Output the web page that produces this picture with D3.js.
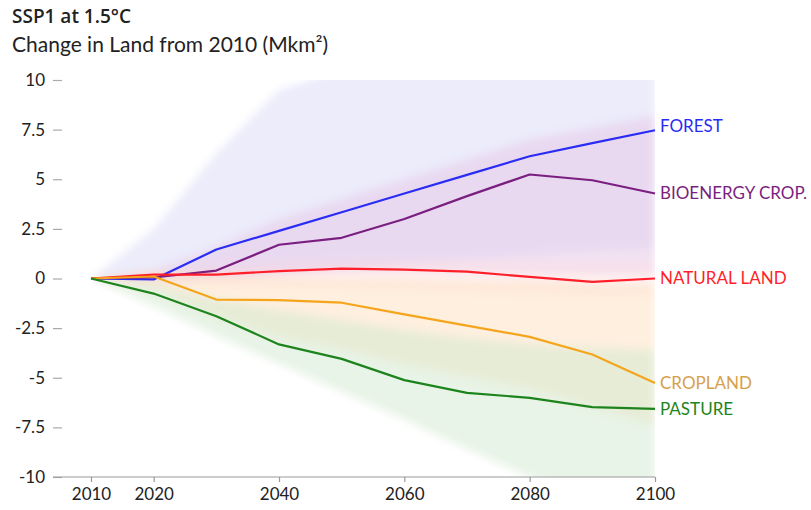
<!DOCTYPE html>
<html>
<head>
<meta charset="utf-8">
<script src="https://cdn.jsdelivr.net/npm/d3@7"></script>
<style>
  html, body { margin: 0; padding: 0; background: #fff; }
  svg { display: block; font-family: Lato, "Open Sans", sans-serif; }
</style>
</head>
<body>
<svg id="chart" width="811" height="510"></svg>
<script>
// Land-use change under SSP1 at 1.5°C, relative to 2010 (million km²)
const years = [2010, 2020, 2030, 2040, 2050, 2060, 2070, 2080, 2090, 2100];

const forest      = [0, -0.05, 1.46, 2.4, 3.34, 4.28, 5.22, 6.16, 6.82, 7.47];
const bioenergy   = [0, 0.05, 0.4, 1.7, 2.05, 3.0, 4.15, 5.24, 4.95, 4.28];
const naturalLand = [0, 0.2, 0.2, 0.37, 0.5, 0.45, 0.35, 0.08, -0.17, 0];
const cropland    = [0, 0.1, -1.06, -1.09, -1.22, -1.81, -2.37, -2.94, -3.83, -5.26];
const pasture     = [0, -0.76, -1.9, -3.32, -4.05, -5.12, -5.76, -6.01, -6.48, -6.57];

// model ranges (low / high) around each median path
const forestLow       = [0, -0.3, 0, 0.3, 0.5, 0.8, 1.0, 1.2, 1.4, 1.5];
const forestHigh      = [0, 2.5, 6.3, 9.5, 10.5, 11, 11, 11, 11, 11];
const bioenergyLow    = [0, 0, 0, 0.2, 0.3, 0.3, 0.3, 0.2, 0.2, 0.2];
const bioenergyHigh   = [0, 0.4, 1.6, 3.0, 4.0, 5.0, 6.0, 7.0, 7.6, 8.2];
const naturalLandLow  = [0, -0.2, -0.4, -0.5, -0.5, -0.6, -0.7, -0.8, -0.9, -0.9];
const naturalLandHigh = [0, 0.4, 0.6, 0.8, 0.9, 0.9, 0.9, 0.8, 0.8, 0.8];
const croplandLow     = [0, -0.6, -2.0, -3.0, -3.6, -4.4, -5.0, -5.6, -6.5, -7.4];
const croplandHigh    = [0, 0.3, 0.2, 0.1, 0, 0, -0.1, -0.1, -0.2, -0.3];
const pastureLow      = [0, -1.4, -2.9, -4.3, -5.7, -7.1, -8.6, -10, -11, -12];
const pastureHigh     = [0, -0.3, -1.0, -1.6, -2.1, -2.6, -3.0, -3.3, -3.5, -3.6];

const yTicks = [10, 7.5, 5, 2.5, 0, -2.5, -5, -7.5, -10];
const xTicks = [2010, 2020, 2040, 2060, 2080, 2100];

const series = [
  { name: "FOREST",          values: forest,      low: forestLow,      high: forestHigh,      line: "#2a2cf5", band: "#d4d4f6", op: 0.45, label: "#2a2cf5" },
  { name: "BIOENERGY CROP.", values: bioenergy,   low: bioenergyLow,   high: bioenergyHigh,   line: "#7a1f80", band: "#e6c6e6", op: 0.5,  label: "#7a1f80" },
  { name: "NATURAL LAND",    values: naturalLand, low: naturalLandLow, high: naturalLandHigh, line: "#ff1f2a", band: "#ffd6d6", op: 0.30, label: "#ff1f2a" },
  { name: "CROPLAND",        values: cropland,    low: croplandLow,    high: croplandHigh,    line: "#f5a51c", band: "#fde0c0", op: 0.50, label: "#d7a04c" },
  { name: "PASTURE",         values: pasture,     low: pastureLow,     high: pastureHigh,     line: "#1d841d", band: "#d2ead0", op: 0.50, label: "#1d841d" }
];

const svg = d3.select("#chart");

const x = d3.scaleLinear().domain([2010, 2100]).range([91, 655]);
const y = d3.scaleLinear().domain([-10, 10]).range([477, 80]);

// clip bands to plotting area
const defs = svg.append("defs");
defs.append("clipPath").attr("id", "plot-clip")
  .append("rect")
  .attr("x", x(2010)).attr("y", y(10))
  .attr("width", x(2100) - x(2010)).attr("height", y(-10) - y(10));
defs.append("filter").attr("id", "soft")
  .attr("x", "-5%").attr("y", "-5%").attr("width", "110%").attr("height", "110%")
  .append("feGaussianBlur").attr("stdDeviation", 4);

// title + subtitle
svg.append("text").attr("x", 12).attr("y", 23)
  .attr("font-family", "'Open Sans', sans-serif")
  .attr("font-size", 19).attr("font-weight", 600).attr("fill", "#222")
  .text("SSP1 at 1.5°C");
svg.append("text").attr("x", 12).attr("y", 52)
  .attr("font-size", 21).attr("fill", "#222")
  .text("Change in Land from 2010 (Mkm²)");

// uncertainty bands
const bandG = svg.append("g").attr("clip-path", "url(#plot-clip)")
  .append("g").attr("filter", "url(#soft)");
const area = d3.area()
  .x((d, i) => x(years[i]))
  .y0(d => y(d[0]))
  .y1(d => y(d[1]));
series.forEach(s => {
  bandG.append("path")
    .datum(s.low.map((v, i) => [v, s.high[i]]))
    .attr("d", area)
    .attr("fill", s.band)
    .attr("fill-opacity", s.op);
});

// y axis: labels with short tick marks, no domain line
const yAxis = svg.append("g").attr("transform", "translate(62,0)")
  .call(d3.axisLeft(y).tickValues(yTicks).tickSize(9).tickPadding(8)
    .tickFormat(d => String(d)));
yAxis.select(".domain").remove();
yAxis.selectAll(".tick line").attr("stroke", "#aaa").attr("stroke-width", 1.2);
yAxis.selectAll(".tick text").attr("font-size", 17).attr("fill", "#222")
  .attr("font-family", "Lato, sans-serif");

// x axis
const xAxis = svg.append("g").attr("transform", `translate(0,${y(-10)})`)
  .call(d3.axisBottom(x).tickValues(xTicks).tickSize(5).tickPadding(6)
    .tickFormat(d3.format("d")));
xAxis.select(".domain").remove();
xAxis.append("line")
  .attr("x1", 53).attr("x2", x(2100))
  .attr("stroke", "#999").attr("stroke-width", 1.2);
xAxis.selectAll(".tick line").attr("stroke", "#999").attr("stroke-width", 1.2);
xAxis.selectAll(".tick text").attr("font-size", 17).attr("fill", "#222")
  .attr("font-family", "Lato, sans-serif");

// median lines
const line = d3.line().x((d, i) => x(years[i])).y(d => y(d));
series.forEach(s => {
  svg.append("path")
    .datum(s.values)
    .attr("d", line)
    .attr("fill", "none")
    .attr("stroke", s.line)
    .attr("stroke-width", 2.2)
    .attr("stroke-linejoin", "round");
});

// end labels
series.forEach(s => {
  svg.append("text")
    .attr("x", x(2100) + 5)
    .attr("y", y(s.values[s.values.length - 1]))
    .attr("dy", s.name === "FOREST" ? "0.1em" : "0.35em")
    .attr("font-size", 17)
    .attr("fill", s.label)
    .text(s.name);
});
</script>
</body>
</html>
